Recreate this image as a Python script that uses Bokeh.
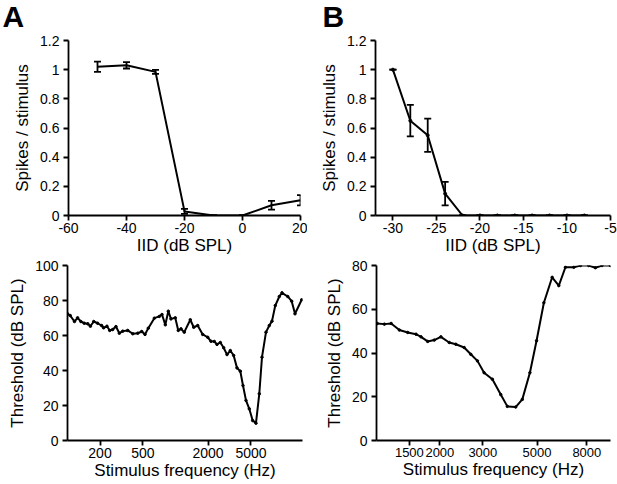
from bokeh.plotting import figure
from bokeh.models import ColumnDataSource, Whisker, TeeHead, FixedTicker, Range1d
from bokeh.layouts import column, row
from bokeh.embed import file_html
from bokeh.resources import INLINE

# ---- Panel A (top): IID response ----
iid_a = [-50, -40, -30, -20, -10, 0, 10, 20]
spk_a = [1.02, 1.03, 0.985, 0.028, 0.0, 0.0, 0.07, 0.105]
err_a = [0.035, 0.022, 0.014, 0.017, 0.0, 0.0, 0.03, 0.035]

# ---- Panel B (top): IID response ----
iid_b = [-30, -28, -26, -24, -22, -20, -18, -16, -14, -12, -10, -8]
spk_b = [1.0, 0.65, 0.55, 0.15, 0, 0, 0, 0, 0, 0, 0, 0]
err_b = [0.0, 0.108, 0.114, 0.08, 0, 0, 0, 0, 0, 0, 0, 0]

# ---- Panel C (bottom): tuning curve ----
freq_c = [100, 106, 116, 124, 133, 143, 154, 163, 175, 190, 207, 216, 232, 246, 262, 281,
          302, 325, 361, 402, 447, 487, 522, 560, 637, 708, 750, 805, 858, 908, 995, 1061,
          1125, 1206, 1371, 1475, 1606, 1786, 1987, 2132, 2287, 2422, 2600, 2794, 2999, 3217,
          3457, 3711, 3984, 4218, 4496, 4822, 5184, 5562, 5970, 6324, 6887, 7390, 7828, 8396,
          9147, 9686, 10940, 11910, 12785, 14744]
thr_c = [72.4, 71.4, 68.0, 70.1, 68.0, 67.0, 66.7, 65.3, 68.0, 67.0, 65.7, 64.4, 65.3, 62.9, 63.4, 65.1,
         61.3, 62.5, 62.9, 61.0, 61.3, 62.3, 60.6, 64.2, 69.9, 70.9, 72.0, 66.1, 73.9, 69.5, 70.1, 62.9,
         63.8, 61.9, 69.0, 64.7, 65.7, 60.6, 59.0, 56.7, 56.6, 54.9, 56.0, 53.0, 49.1, 51.4,
         48.6, 41.5, 39.6, 31.4, 22.9, 18.1, 11.4, 9.9, 26.7, 47.6, 61.9, 65.7, 68.2, 77.1,
         82.3, 84.4, 82.3, 79.6, 72.4, 80.4]

# ---- Panel D (bottom): tuning curve ----
freq_d = [1107, 1185, 1263, 1365, 1477, 1597, 1674, 1782, 1897, 2019, 2184, 2325, 2515, 2677,
          2851, 3035, 3282, 3551, 3779, 4088, 4352, 4675, 4978, 5334, 5768, 6141, 6537, 7072,
          7530, 8145, 8670, 9230, 9980]
thr_d = [53.5, 53.2, 53.5, 50.5, 49.4, 48.6, 47.4, 45.3, 45.9, 47.4, 44.8, 44.0, 42.5, 39.4,
         36.4, 31.0, 28.0, 21.0, 15.6, 15.3, 18.8, 31.0, 45.6, 63.0, 74.6, 70.8, 79.2, 79.2,
         80, 80, 79, 80, 80]

# ---- ticks and tick labels ----
yt_spk = [0, 0.2, 0.4, 0.6, 0.8, 1.0, 1.2]
yl_spk = ["0", "0.2", "0.4", "0.6", "0.8", "1", "1.2"]
xt_a = [-60, -40, -20, 0, 20]
xl_a = ["-60", "-40", "-20", "0", "20"]
xt_b = [-30, -25, -20, -15, -10, -5]
xl_b = ["-30", "-25", "-20", "-15", "-10", "-5"]
xt_c = [200, 500, 2000, 5000]
xl_c = ["200", "500", "2000", "5000"]
yt_c = [0, 20, 40, 60, 80, 100]
yl_c = ["0", "20", "40", "60", "80", "100"]
xt_d = [1500, 2000, 3000, 5000, 8000]
xl_d = ["1500", "2000", "3000", "5000", "8000"]
yt_d = [0, 20, 40, 60, 80]
yl_d = ["0", "20", "40", "60", "80"]

FONT = "Liberation Sans"


def style(p, xticks, xlabels, yticks, ylabels):
    p.outline_line_color = None
    p.grid.visible = False
    p.xaxis.ticker = FixedTicker(ticks=xticks)
    p.yaxis.ticker = FixedTicker(ticks=yticks)
    p.xaxis.major_label_overrides = {t: l for t, l in zip(xticks, xlabels)}
    p.yaxis.major_label_overrides = {t: l for t, l in zip(yticks, ylabels)}
    for ax in (p.xaxis, p.yaxis):
        ax.axis_line_width = 1.8
        ax.axis_line_color = "black"
        ax.major_tick_line_width = 1.8
        ax.major_tick_line_color = "black"
        ax.major_tick_out = 5
        ax.major_tick_in = 0
        ax.minor_tick_line_color = None
        ax.major_label_text_font = FONT
        ax.major_label_text_font_size = "14px"
        ax.major_label_text_color = "black"
        ax.axis_label_text_font = FONT
        ax.axis_label_text_font_size = "17px"
        ax.axis_label_text_font_style = "normal"
        ax.axis_label_text_color = "black"
    p.xaxis.major_label_standoff = 2
    p.xaxis.axis_label_standoff = 0
    p.yaxis.major_label_standoff = 4
    p.yaxis.axis_label_standoff = 5


def letter(p, txt, offset):
    p.title.text = txt
    p.title.align = "left"
    p.title.offset = offset
    p.title.standoff = 16
    p.title.text_font = FONT
    p.title.text_font_size = "30px"
    p.title.text_font_style = "bold"
    p.title.text_color = "black"


def whisk(src):
    return Whisker(base="x", upper="up", lower="lo", source=src, line_width=1.8,
                   line_color="black",
                   upper_head=TeeHead(size=7, line_width=1.8, line_color="black"),
                   lower_head=TeeHead(size=7, line_width=1.8, line_color="black"))


# Panel A (canvas raised by 12px so the panel letter sits near the top edge)
pA = figure(width=307, height=270, output_backend="svg", toolbar_location=None,
            x_range=Range1d(-60, 20), y_range=Range1d(0, 1.2), margin=(-12, 0, 0, 0),
            min_border_left=68, min_border_right=7, min_border_top=52, min_border_bottom=43)
style(pA, xt_a, xl_a, yt_spk, yl_spk)
pA.xaxis.axis_label = "IID (dB SPL)"
pA.yaxis.axis_label = "Spikes / stimulus"
srcA = ColumnDataSource(dict(x=iid_a, y=spk_a,
                             up=[v + e for v, e in zip(spk_a, err_a)],
                             lo=[v - e for v, e in zip(spk_a, err_a)]))
pA.line("x", "y", source=srcA, line_width=2, line_color="black")
pA.add_layout(whisk(srcA))
letter(pA, "A", -66)

# Panel B
pB = figure(width=310, height=270, output_backend="svg", toolbar_location=None,
            x_range=Range1d(-32, -5), y_range=Range1d(0, 1.2), margin=(-12, 0, 0, 0),
            min_border_left=68, min_border_right=7, min_border_top=52, min_border_bottom=43)
style(pB, xt_b, xl_b, yt_spk, yl_spk)
pB.xaxis.axis_label = "IID (dB SPL)"
pB.yaxis.axis_label = "Spikes / stimulus"
srcB = ColumnDataSource(dict(x=iid_b, y=spk_b,
                             up=[v + e for v, e in zip(spk_b, err_b)],
                             lo=[v - e for v, e in zip(spk_b, err_b)]))
pB.line("x", "y", source=srcB, line_width=2, line_color="black")
pB.scatter("x", "y", source=srcB, size=3, color="black")
pB.add_layout(whisk(srcB))
letter(pB, "B", -53)

# Panel C
pC = figure(width=307, height=226, output_backend="svg", toolbar_location=None,
            x_axis_type="log", x_range=Range1d(100, 15000), y_range=Range1d(0, 100),
            min_border_left=67, min_border_right=5, min_border_top=7, min_border_bottom=44)
style(pC, xt_c, xl_c, yt_c, yl_c)
pC.xaxis.axis_label = "Stimulus frequency (Hz)"
pC.yaxis.axis_label = "Threshold (dB SPL)"
pC.line(freq_c, thr_c, line_width=2, line_color="black")
pC.scatter(freq_c, thr_c, size=2.5, color="black")

# Panel D
pD = figure(width=310, height=226, output_backend="svg", toolbar_location=None,
            x_axis_type="log", x_range=Range1d(1100, 10000), y_range=Range1d(0, 80),
            min_border_left=69, min_border_right=7, min_border_top=7, min_border_bottom=44)
style(pD, xt_d, xl_d, yt_d, yl_d)
pD.xaxis.major_label_text_font_size = "13px"
pD.xaxis.axis_label = "Stimulus frequency (Hz)"
pD.yaxis.axis_label = "Threshold (dB SPL)"
pD.line(freq_d, thr_d, line_width=2, line_color="black")
pD.scatter(freq_d, thr_d, size=2.5, color="black")

layout = column(row(pA, pB), row(pC, pD))
open("out.html", "w").write(file_html(layout, INLINE))
